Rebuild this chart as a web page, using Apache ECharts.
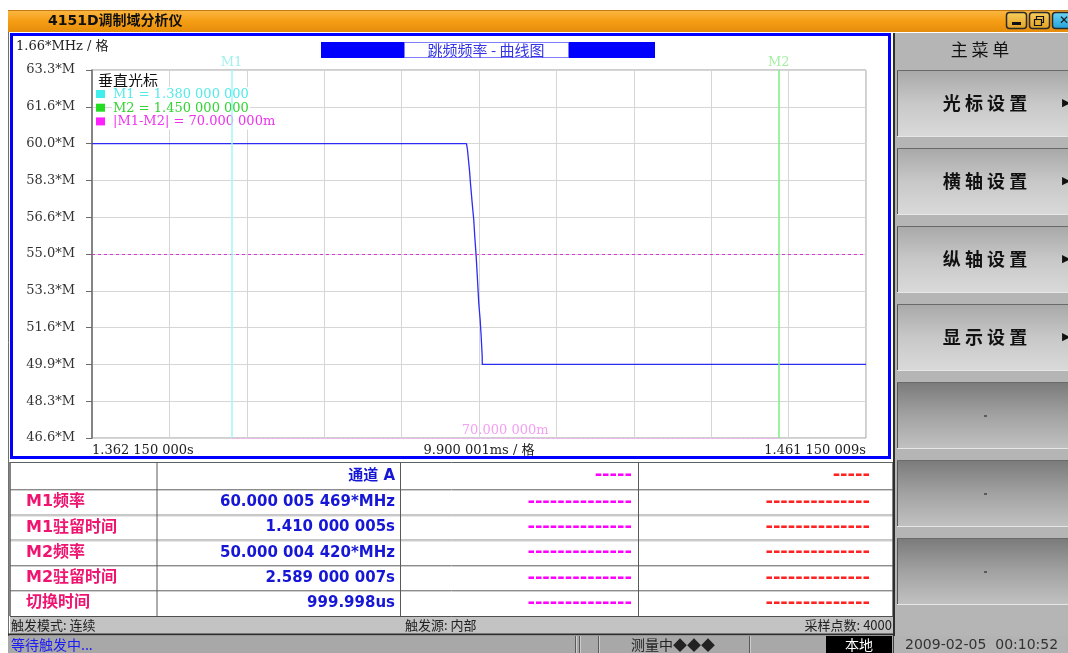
<!DOCTYPE html>
<html>
<head>
<meta charset="utf-8">
<title>4151D调制域分析仪</title>
<script src="https://cdn.jsdelivr.net/npm/echarts@6/dist/echarts.min.js"></script>
<style>
  html, body { margin: 0; padding: 0; background: #ffffff; }
  #main { width: 1068px; height: 653px; }
</style>
</head>
<body>
<div id="main"></div>
<script>
// ---- sweep trace: time (s) against frequency (MHz) ----
const sweepTimes = [1.362150, 1.410050, 1.410180, 1.410430, 1.410560, 1.410780, 1.410980,
                    1.411110, 1.411290, 1.411460, 1.411620, 1.411800, 1.411930, 1.412060,
                    1.412070, 1.461150];
const sweepFreqs = [60.000005, 60.000005, 59.71, 58.80, 58.20, 57.30, 56.54,
                    55.78, 54.88, 53.82, 52.77, 52.01, 51.25, 50.35,
                    50.000004, 50.000004];

// ---- horizontal scale ----
const timeStart = 1.362150000;      // s, left edge
const timeStepMs = 9.900001;        // ms per division
const timeDivs = 10;
const xEndLabels = ['1.362 150 000s', '1.461 150 009s'];
const xUnitLabel = '9.900 001ms / 格';

// ---- vertical scale ----
const freqMin = 140 / 3;            // MHz, bottom edge
const freqStep = 5 / 3;             // MHz per division
const freqDivs = 10;
const yTickLabels = ['46.6*M', '48.3*M', '49.9*M', '51.6*M', '53.3*M', '55.0*M',
                     '56.6*M', '58.3*M', '60.0*M', '61.6*M', '63.3*M'];
const yUnitLabel = '1.66*MHz / 格';

// ---- cursors ----
const cursorNames = ['M1', 'M2'];
const cursorTimes = [1.380, 1.450];
const cursorReadouts = ['M1 = 1.380 000 000', 'M2 = 1.450 000 000', '|M1-M2| = 70.000 000m'];
const cursorDelta = '70.000 000m';
const midFreq = 55.0;

// ---- readout table ----
const tableHeader = ['', '通道 A', '-----', '-----'];
const rowNames = ['M1频率', 'M1驻留时间', 'M2频率', 'M2驻留时间', '切换时间'];
const channelA = ['60.000 005 469*MHz', '1.410 000 005s', '50.000 004 420*MHz', '2.589 000 007s', '999.998us'];
const channelB = ['--------------', '--------------', '--------------', '--------------', '--------------'];
const channelC = ['--------------', '--------------', '--------------', '--------------', '--------------'];

// ---- status and menu ----
const statusTop = ['触发模式: 连续', '触发源: 内部', '采样点数: 4000'];
const statusBottom = ['等待触发中...', '测量中◆◆◆', '本地', '2009-02-05  00:10:52'];
const menuTitle = '主菜单';
const menuItems = ['光 标 设 置', '横 轴 设 置', '纵 轴 设 置', '显 示 设 置', '', '', ''];
const windowTitle = '4151D调制域分析仪';

// ---------------------------------------------------------------
const toMs = t => (t - timeStart) * 1000;
const timeMax = timeStepMs * timeDivs;
const freqMax = freqMin + freqStep * freqDivs;
const traceData = sweepTimes.map((t, i) => [toMs(t), sweepFreqs[i]]);

const SERIF = '"DejaVu Serif", "Noto Sans CJK SC"';
const SANS = '"DejaVu Sans", "Noto Sans CJK SC"';
const CJK = '"Noto Sans CJK SC"';

const G = [];
function rect(x, y, w, h, style, extra) {
  G.push(Object.assign({ type: 'rect', silent: true, shape: { x, y, width: w, height: h, r: (extra && extra.r) || 0 }, style }, extra || {}));
}
function line(x1, y1, x2, y2, stroke, lw, extra) {
  G.push(Object.assign({ type: 'line', silent: true, shape: { x1, y1, x2, y2 }, style: { stroke, lineWidth: lw || 1 } }, extra || {}));
}
function text(x, y, str, font, fill, align, extra, more) {
  const a = align || 'left';
  G.push(Object.assign({
    type: 'text', silent: true,
    style: Object.assign({ x, y, text: str, font, fill, align: a, verticalAlign: 'middle',
                           textAlign: a, textVerticalAlign: 'middle' }, more || {})
  }, extra || {}));
}
const grad = (a, b, c) => new echarts.graphic.LinearGradient(0, 0, 0, 1,
  c ? [{ offset: 0, color: a }, { offset: 0.5, color: b }, { offset: 1, color: c }]
    : [{ offset: 0, color: a }, { offset: 1, color: b }]);

// window title bar
rect(8, 10, 1060, 22, { fill: grad('#fbb845', '#f59e14', '#e58c0c') });
line(8, 10.5, 1068, 10.5, '#c77a12', 1);
text(48, 21, windowTitle, 'bold 14px ' + SANS, '#111111');
rect(1006.5, 12.5, 20, 16, { fill: grad('#f9d060', '#e0a020'), stroke: '#2a2a2a', lineWidth: 1.5 }, { r: 3 });
rect(1012, 22, 9, 3, { fill: '#111' });
rect(1029.5, 12.5, 20, 16, { fill: grad('#f9d060', '#e0a020'), stroke: '#2a2a2a', lineWidth: 1.5 }, { r: 3 });
rect(1036.5, 16.5, 7, 6, { fill: 'none', stroke: '#111', lineWidth: 1.2 });
rect(1034.5, 19.5, 7, 6, { fill: '#e8b030', stroke: '#111', lineWidth: 1.2 });
rect(1052.5, 12.5, 20, 16, { fill: grad('#6fd6f6', '#1ea0d8'), stroke: '#2a2a2a', lineWidth: 1.5 }, { r: 3 });
text(1059, 21, '✕', 'bold 12px ' + SANS, '#111');

// left frame edge
line(8.5, 32, 8.5, 653, '#707070', 1);

// chart panel frame
rect(11.5, 34.5, 878, 423, { fill: 'none', stroke: '#0000ff', lineWidth: 3 });
text(16, 47, yUnitLabel, '13px ' + SERIF, '#222222');

// chart title plate
rect(321, 42, 334, 16, { fill: '#0000ff' });
rect(404.5, 42.5, 164, 15, { fill: '#ffffff', stroke: '#8080ff', lineWidth: 1 });
text(486, 50, '跳频频率 - 曲线图', '15px ' + CJK, '#3434e4', 'center');

// cursor readout block (white backing hides grid lines behind text)
const legendColors = ['#40eeee', '#22dd22', '#ff20ff'];
const legendText = ['#55eaea', '#33d433', '#ee33ee'];
text(96, 80.5, '垂直光标', '15px ' + CJK, '#111111', 'left', { z: 1 }, { backgroundColor: '#ffffff', padding: [0, 2] });
cursorReadouts.forEach((s, i) => {
  const y = 94.5 + i * 13.7;
  rect(96, y - 4.5, 9, 8, { fill: legendColors[i] }, { z: 1 });
  text(112, y, s, '13px ' + SERIF, legendText[i], 'left', { z: 1 }, { backgroundColor: '#ffffff', padding: [1, 1] });
});

// readout table
const tX = [10, 157, 400.5, 638.5, 893];
const tY = [462, 489.5, 515, 540, 565.5, 590.5, 616];
rect(10, 462, 883, 154, { fill: '#ffffff' });
for (let r = 1; r < tY.length - 1; r++) {
  line(10, tY[r], 893, tY[r], '#8c8c8c', 1);
  line(10, tY[r] + 1, 893, tY[r] + 1, '#cfcfcf', 1);
}
line(10, 462.5, 893, 462.5, '#606060', 1);
for (let c = 0; c < tX.length; c++) line(tX[c], 462, tX[c], 616, '#5a5a5a', c === 0 || c === tX.length - 1 ? 1.5 : 1);
const rowMid = r => (tY[r] + tY[r + 1]) / 2;
const DASH = 'bold 18px "DejaVu Sans"';
text(395, rowMid(0), tableHeader[1], 'bold 15px ' + SANS, '#1616d6', 'right');
text(632, rowMid(0), tableHeader[2], DASH, '#ff00ff', 'right');
text(870, rowMid(0), tableHeader[3], DASH, '#ff2222', 'right');
rowNames.forEach((name, i) => {
  const y = rowMid(i + 1);
  text(26, y, name, 'bold 16px ' + SANS, '#ee1470', 'left');
  text(395, y, channelA[i], 'bold 15px ' + SANS, '#1616d6', 'right');
  text(632, y, channelB[i], DASH, '#ff00ff', 'right');
  text(870, y, channelC[i], DASH, '#ff2222', 'right');
});

// upper status bar
rect(10, 616, 883, 18, { fill: '#c3c3c3' });
line(10, 616.5, 893, 616.5, '#505050', 1);
line(8, 634.5, 893, 634.5, '#2c2c2c', 2);
text(11, 625, statusTop[0], '13px ' + CJK, '#222222');
text(405, 625, statusTop[1], '13px ' + CJK, '#222222');
text(892, 625, statusTop[2], '13px ' + CJK, '#222222', 'right');

// lower status bar
rect(8, 636, 1060, 17, { fill: '#a8a8a8' });
text(11, 645, statusBottom[0], '14px ' + CJK, '#1c1cf4');
[575, 579, 598, 749].forEach(x => { line(x + 0.5, 636, x + 0.5, 653, '#5a5a5a', 1); line(x + 1.5, 636, x + 1.5, 653, '#cccccc', 1); });
text(673, 645, statusBottom[1], '14px ' + CJK, '#222222', 'center');
rect(826, 636, 66, 17, { fill: '#000000' });
text(859, 645, statusBottom[2], '14px ' + CJK, '#ffffff', 'center');
rect(893, 636, 175, 17, { fill: '#b3b3b3' });
line(893.5, 636, 893.5, 653, '#404040', 1);
text(905, 645, statusBottom[3], '14px ' + SANS, '#333333');

// right-hand menu
rect(893, 33, 175, 603, { fill: '#b5b5b5' });
line(894, 33, 894, 636, '#2e2e2e', 2);
text(980, 50, menuTitle.split('').join(' '), '17px ' + CJK, '#111111', 'center');
menuItems.forEach((label, i) => {
  const y = 70 + i * 78;
  const lit = label !== '';
  rect(897, y, 171, 67, { fill: lit ? grad('#a8a8a8', '#c8c8c8', '#dadada') : grad('#7a7a7a', '#a2a2a2', '#c2c2c2') });
  line(897.5, y, 897.5, y + 67, '#555555', 1);
  line(897, y + 0.5, 1068, y + 0.5, '#6a6a6a', 1);
  line(897, y + 66.5, 1068, y + 66.5, '#e6e6e6', 1);
  if (lit) {
    text(985, y + 33, label, 'bold 18px ' + CJK, '#111111', 'center');
    text(1062, y + 33, '▶', '11px ' + SANS, '#111111');
  } else {
    rect(984, y + 33, 3, 2, { fill: '#5a5a5a' });
  }
});

// ---------------------------------------------------------------
const chart = echarts.init(document.getElementById('main'), null, { renderer: 'canvas' });
chart.setOption({
  animation: false,
  backgroundColor: '#ffffff',
  grid: { left: 92, right: 202, top: 70, bottom: 215, show: true, borderColor: '#9c9c9c', borderWidth: 1, backgroundColor: 'transparent' },
  xAxis: {
    type: 'value', min: 0, max: timeMax, interval: timeStepMs,
    axisLine: { show: false }, axisTick: { show: false },
    splitLine: { show: true, lineStyle: { color: '#d6d6d6', width: 1 } },
    axisLabel: {
      show: true, margin: 6, color: '#222222', fontFamily: SERIF, fontSize: 13,
      showMinLabel: true, showMaxLabel: true, alignMinLabel: 'left', alignMaxLabel: 'right',
      hideOverlap: false,
      formatter: v => (Math.abs(v) < 1e-9 ? xEndLabels[0] : (Math.abs(v - timeMax) < 1e-6 ? xEndLabels[1] : ''))
    },
    name: xUnitLabel, nameLocation: 'middle', nameGap: 6, nameMoveOverlap: false,
    nameTextStyle: { color: '#222222', fontFamily: SERIF, fontSize: 13, verticalAlign: 'top' }
  },
  yAxis: {
    type: 'value', min: freqMin, max: freqMax, interval: freqStep, offset: 9,
    axisLine: { show: true, lineStyle: { color: '#6a6a6a', width: 1.5 } },
    axisTick: { show: true, length: 6, lineStyle: { color: '#6a6a6a', width: 1 } },
    splitLine: { show: true, lineStyle: { color: '#d6d6d6', width: 1 } },
    axisLabel: {
      margin: 8, color: '#333333', fontFamily: SERIF, fontSize: 13,
      formatter: v => yTickLabels[Math.round((v - freqMin) / freqStep)] || ''
    }
  },
  series: [{
    type: 'line', data: traceData, showSymbol: false, silent: true, z: 3,
    lineStyle: { color: '#2c2cf2', width: 1.3 },
    markLine: {
      silent: true, symbol: ['none', 'none'], animation: false, precision: 6,
      data: [
        { yAxis: midFreq, lineStyle: { color: '#d23ad2', type: [3, 3], width: 1 }, label: { show: false } },
        [
          { coord: [toMs(cursorTimes[0]), freqMin], lineStyle: { color: '#f6aaf6', type: [3, 2], width: 1 },
            label: { show: true, formatter: cursorDelta, position: 'insideMiddleTop', distance: 1,
                     color: '#f4a0f4', fontFamily: SERIF, fontSize: 13 } },
          { coord: [toMs(cursorTimes[1]), freqMin] }
        ],
        { xAxis: toMs(cursorTimes[0]), lineStyle: { color: '#a4f6f6', type: 'solid', width: 1.5 },
          label: { show: true, formatter: cursorNames[0], position: 'end', distance: 1, color: '#a6eeee', fontFamily: SERIF, fontSize: 13 } },
        { xAxis: toMs(cursorTimes[1]), lineStyle: { color: '#7cee7c', type: 'solid', width: 1.5 },
          label: { show: true, formatter: cursorNames[1], position: 'end', distance: 1, color: '#a6eea6', fontFamily: SERIF, fontSize: 13 } }
      ]
    }
  }],
  graphic: { elements: G }
});
</script>
</body>
</html>
